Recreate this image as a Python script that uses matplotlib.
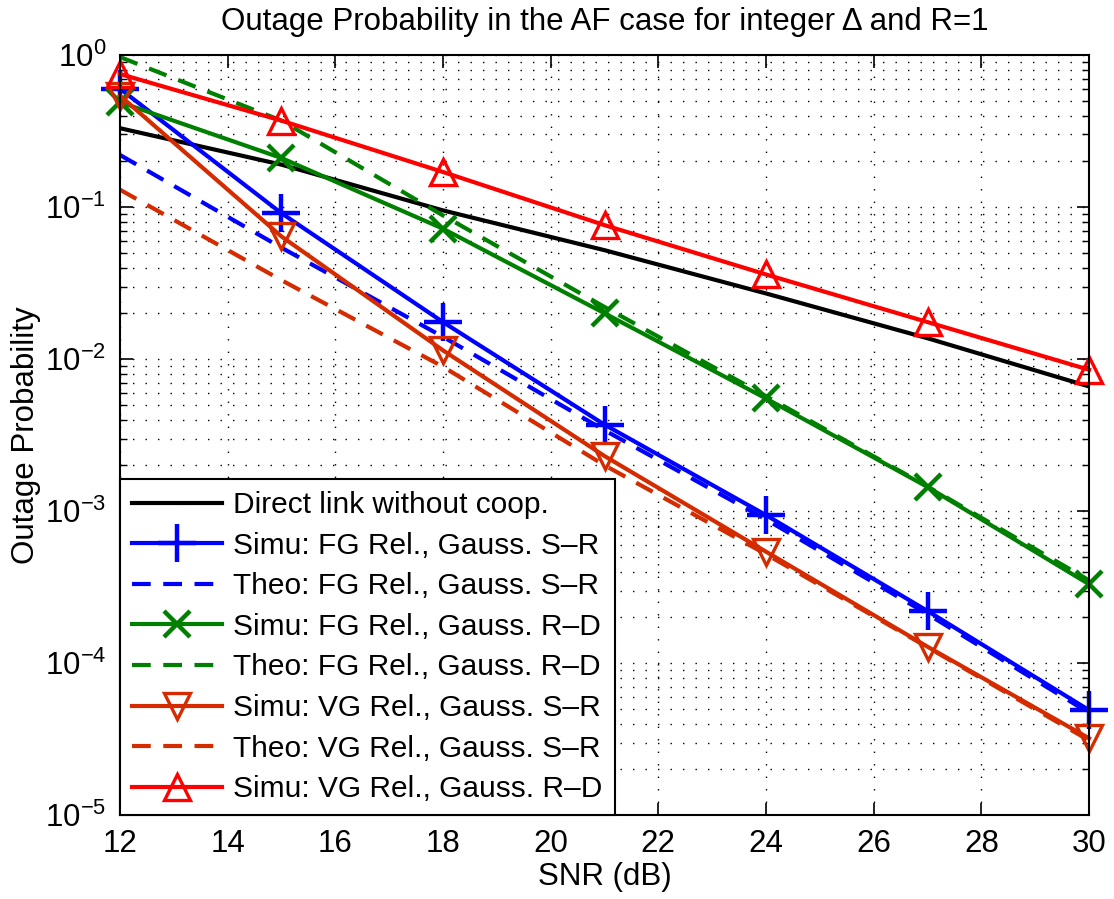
import numpy as np
import matplotlib
matplotlib.use('Agg')
import matplotlib.pyplot as plt
from matplotlib.ticker import LogLocator, NullFormatter, MultipleLocator

plt.rcParams['font.family'] = ['Liberation Sans', 'DejaVu Sans']
plt.rcParams['mathtext.default'] = 'regular'

# Data (SNR in dB)
snr = [12, 15, 18, 21, 24, 27, 30]
direct = [0.33, 0.19, 0.095, 0.052, 0.027, 0.0137, 0.0066]
fg_sr_simu = [0.60, 0.091, 0.0175, 0.0037, 9.4e-4, 2.2e-4, 4.9e-5]
fg_sr_theo = [0.22, 0.054, 0.014, 0.0034, 8.8e-4, 2.1e-4, 4.7e-5]
fg_rd_simu = [0.49, 0.21, 0.072, 0.020, 0.0055, 0.00144, 3.3e-4]
fg_rd_theo = [0.97, 0.37, 0.088, 0.022, 0.0057, 0.00145, 3.5e-4]
vg_sr_simu = [0.54, 0.064, 0.0114, 0.0023, 5.4e-4, 1.28e-4, 3.2e-5]
vg_sr_theo = [0.13, 0.033, 0.0089, 0.0020, 5.2e-4, 1.27e-4, 3.1e-5]
vg_rd_simu = [0.75, 0.37, 0.17, 0.076, 0.036, 0.0175, 0.0085]

BLUE = '#0000ff'
GREEN = '#008000'
ORANGE = '#d42c00'
RED = '#ff0000'
LW = 3
MS = 19
MEW = 2.4
DASH = (0, (4.5, 3))
FS = 22.5

fig = plt.figure(figsize=(11.14, 8.99), dpi=100)
ax = fig.add_axes([0.1077, 0.0934, 0.8699, 0.8454])

ax.semilogy(snr, direct, color='k', lw=LW, label='Direct link without coop.')
ax.semilogy(snr, fg_sr_simu, color=BLUE, lw=LW, marker='+', ms=MS + 8, mew=MEW + 0.8,
            clip_on=False, label='Simu: FG Rel., Gauss. S–R')
ax.semilogy(snr, fg_sr_theo, color=BLUE, lw=LW, linestyle=DASH,
            label='Theo: FG Rel., Gauss. S–R')
ax.semilogy(snr, fg_rd_simu, color=GREEN, lw=LW, marker='x', ms=MS, mew=MEW + 0.8,
            clip_on=False, label='Simu: FG Rel., Gauss. R–D')
ax.semilogy(snr, fg_rd_theo, color=GREEN, lw=LW, linestyle=DASH,
            label='Theo: FG Rel., Gauss. R–D')
ax.semilogy(snr, vg_sr_simu, color=ORANGE, lw=LW, marker='v', ms=MS, mew=MEW, mfc='none',
            clip_on=False, label='Simu: VG Rel., Gauss. S–R')
ax.semilogy(snr, vg_sr_theo, color=ORANGE, lw=LW, linestyle=DASH,
            label='Theo: VG Rel., Gauss. S–R')
ax.semilogy(snr, vg_rd_simu, color=RED, lw=LW, marker='^', ms=MS, mew=MEW, mfc='none',
            clip_on=False, label='Simu: VG Rel., Gauss. R–D')

ax.set_xlim(12, 30)
ax.set_ylim(1e-5, 1)
ax.xaxis.set_major_locator(MultipleLocator(2))
ax.yaxis.set_major_locator(LogLocator(base=10, numticks=10))
ax.yaxis.set_minor_locator(LogLocator(base=10, subs=np.arange(2, 10), numticks=20))
ax.yaxis.set_minor_formatter(NullFormatter())

ax.grid(True, which='major', axis='x', color='k', linestyle=(0, (1, 8)), lw=1.0)
ax.grid(True, which='both', axis='y', color='k', linestyle=(0, (1, 8)), lw=1.0)
ax.set_axisbelow(True)

ax.tick_params(which='both', direction='in', top=True, right=True, labelsize=FS, pad=10)
ax.tick_params(which='major', length=9, width=1.2)
ax.tick_params(which='minor', length=5, width=1.0)
for s in ax.spines.values():
    s.set_linewidth(1.5)

ax.set_xlabel('SNR (dB)', fontsize=FS, labelpad=2)
ax.set_ylabel('Outage Probability', fontsize=FS, labelpad=3)
ax.set_title('Outage Probability in the AF case for integer Δ and R=1', fontsize=FS, pad=18)

leg = ax.legend(loc='lower left', fontsize=21.5, borderaxespad=0, fancybox=False,
                framealpha=1, edgecolor='k', handlelength=3.0, labelspacing=0.42,
                borderpad=0.4, handletextpad=0.4)
leg.get_frame().set_linewidth(1.5)
leg.set_zorder(5)

fig.savefig('out.png', dpi=100)
